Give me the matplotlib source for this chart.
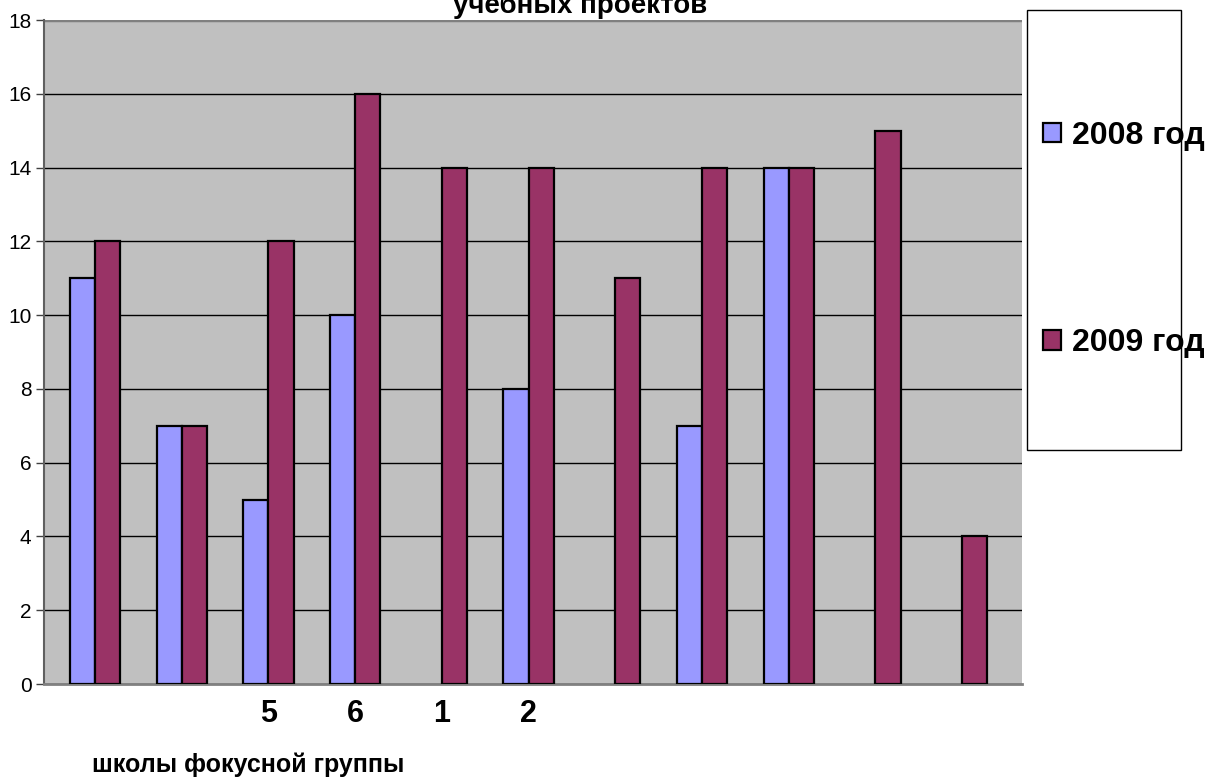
import numpy as np
import matplotlib
matplotlib.use("Agg")
import matplotlib.pyplot as plt
from matplotlib.patches import Rectangle

plt.rcParams['font.family'] = ['Liberation Sans', 'DejaVu Sans']

# school groups (only a few have printed labels)
categories = ['', '', '5', '6', '1', '2', '', '', '', '', '']
projects_2008 = [11, 7, 5, 10, None, 8, None, 7, 14, None, None]
projects_2009 = [12, 7, 12, 16, 14, 14, 11, 14, 14, 15, 4]
series_names = ['2008 год', '2009 год']
colors = ['#9999FF', '#993366']

x = np.arange(len(categories))
v08 = np.array([np.nan if v is None else v for v in projects_2008], dtype=float)
v09 = np.array(projects_2009, dtype=float)
w = 0.29

fig = plt.figure(figsize=(12.09, 7.81), dpi=100)
ax = fig.add_axes([44 / 1209, 97 / 781, 978 / 1209, 664 / 781])
ax.set_facecolor('#C0C0C0')

b1 = ax.bar(x - w / 2, v08, w, color=colors[0], edgecolor='black', linewidth=1.6, zorder=3)
b2 = ax.bar(x + w / 2, v09, w, color=colors[1], edgecolor='black', linewidth=1.6, zorder=3)

ax.set_ylim(0, 18)
ax.set_xlim(-0.588, 10.69)
ax.set_yticks(range(0, 19, 2))
ax.yaxis.grid(True, color='black', linewidth=1.0, zorder=1)
ax.set_axisbelow(True)
ax.tick_params(axis='y', labelsize=15, length=6, width=1, color='#404040', pad=3)
ax.set_xticks(x)
ax.set_xticklabels(categories, fontsize=22, fontweight='bold')
ax.tick_params(axis='x', length=0, pad=11)

for s in ['top', 'right']:
    ax.spines[s].set_visible(False)
ax.spines['left'].set_color('#606060')
ax.spines['left'].set_linewidth(1.5)
ax.spines['bottom'].set_color('#808080')
ax.spines['bottom'].set_linewidth(2)
ax.axhline(18, color='#808080', linewidth=2.5, zorder=2)

fig.text(92 / 1209, 1 - 772 / 781, 'школы фокусной группы', fontsize=18,
         fontweight='bold', ha='left', va='baseline')

# title is partly cut off at the top of the picture
fig.text(580 / 1209, 1 - 13 / 781, 'учебных проектов', fontsize=20,
         fontweight='bold', ha='center', va='baseline')

# legend box
fig.patches.append(Rectangle((1027 / 1209, 1 - 450 / 781), 154 / 1209, 440 / 781,
                             transform=fig.transFigure, facecolor='white',
                             edgecolor='black', linewidth=1))
fig.legend([b1, b2], series_names, loc='upper left',
           bbox_to_anchor=(1043 / 1209, 1 - 121 / 781), frameon=False,
           prop={'size': 23, 'weight': 'bold'}, labelspacing=5.55,
           handlelength=0.55, handleheight=0.55, handletextpad=0.35,
           borderaxespad=0, borderpad=0)

fig.savefig('out.png', dpi=100)
